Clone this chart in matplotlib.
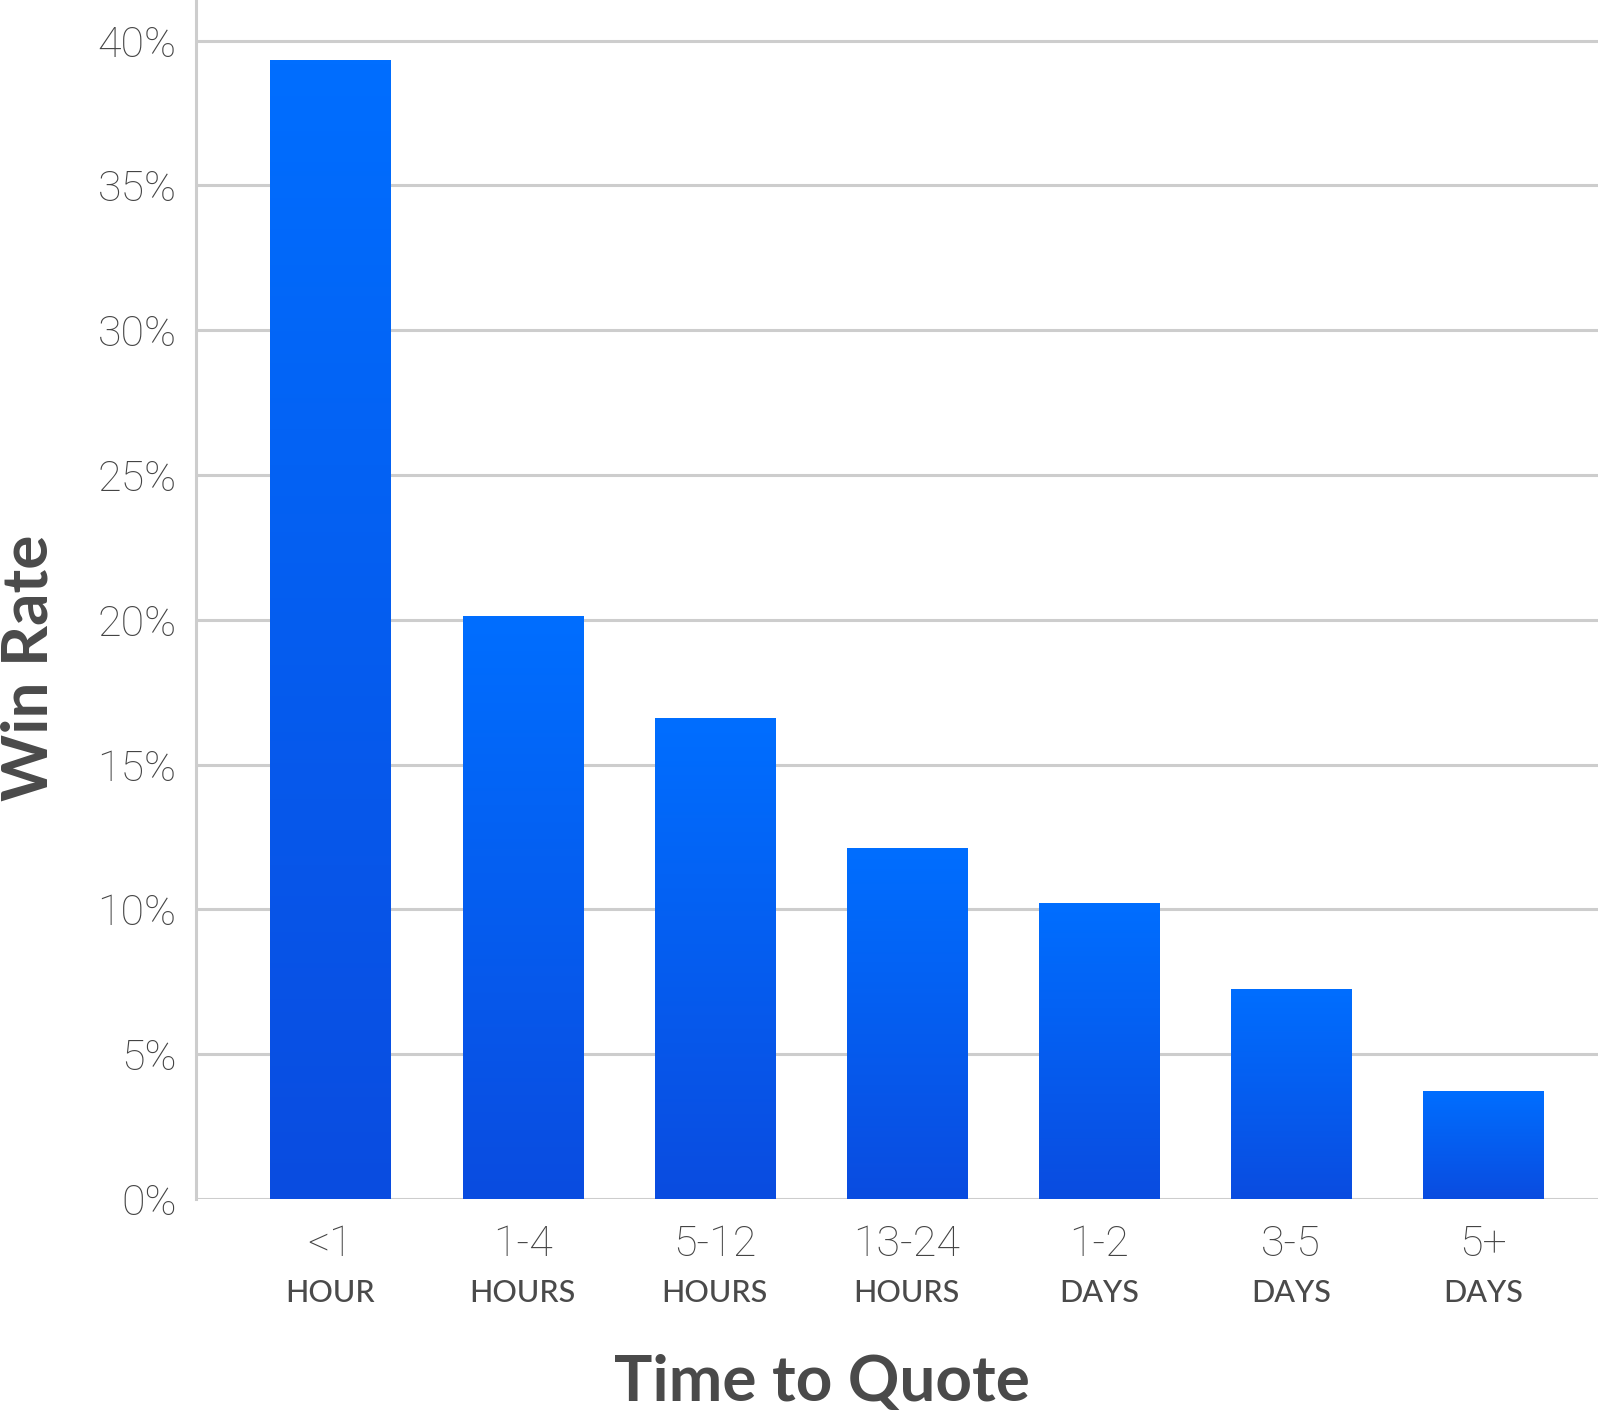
import numpy as np
import matplotlib.pyplot as plt
from matplotlib.colors import LinearSegmentedColormap
from matplotlib.transforms import blended_transform_factory

# data
top_labels = ["<1", "1-4", "5-12", "13-24", "1-2", "3-5", "5+"]
unit_labels = ["HOUR", "HOURS", "HOURS", "HOURS", "DAYS", "DAYS", "DAYS"]
win_rate = [39.3, 20.1, 16.6, 12.1, 10.2, 7.25, 3.7]
y_ticks = [0, 5, 10, 15, 20, 25, 30, 35, 40]

plt.rcParams['font.family'] = ['Lato', 'DejaVu Sans']
grey = "#4a4a4a"
grid_col = "#cdcdcd"
num_font = dict(family=["Roboto", "DejaVu Sans"], fontweight="light", fontsize=31, color="#444444")

fig = plt.figure(figsize=(16, 14.19), dpi=100)
ax = fig.add_axes([0.1225, 0.155, 0.8765, 0.845])

x = np.arange(len(win_rate))
bars = ax.bar(x, win_rate, width=0.625, color="none", edgecolor="none", zorder=3)

# vertical gradient per bar: dark at bottom, bright at top
cmap = LinearSegmentedColormap.from_list("blu", ["#0a4ce0", "#006eff"])
grad = np.linspace(0, 1, 256).reshape(-1, 1)
for b in bars:
	bx, by = b.get_xy()
	w, h = b.get_width(), b.get_height()
	ax.imshow(grad, extent=[bx, bx + w, by, by + h], origin="lower",
		aspect="auto", cmap=cmap, zorder=3)

ax.set_xlim(-0.70, 6.6)
ax.set_ylim(0, 41.4)

ax.set_yticks(y_ticks)
ax.set_yticklabels([f"{t}%" for t in y_ticks], **num_font)
ax.tick_params(axis="y", length=0, pad=14)
ax.set_xticks([])
ax.yaxis.grid(True, color=grid_col, linewidth=2.2, zorder=0)
ax.set_axisbelow(True)

for s in ["top", "right", "bottom"]:
	ax.spines[s].set_visible(False)
ax.spines["left"].set_color(grid_col)
ax.spines["left"].set_linewidth(2.2)

trans = blended_transform_factory(ax.transData, ax.transAxes)
for i in range(len(x)):
	ax.annotate(top_labels[i], (x[i], 0), xycoords=trans, xytext=(0, -33),
		textcoords="offset points", ha="center", va="center", **num_font)
	ax.annotate(unit_labels[i], (x[i], 0), xycoords=trans, xytext=(0, -68),
		textcoords="offset points", ha="center", va="center",
		fontsize=22, color=grey, fontweight="medium")

fig.text(822 / 1600, 1 - 1383 / 1419, "Time to Quote", ha="center", va="center",
	fontsize=46, fontweight="bold", color=grey)
fig.text(29 / 1600, 1 - 668 / 1419, "Win Rate", ha="center", va="center",
	rotation=90, fontsize=46, fontweight="bold", color=grey)

fig.savefig("out.png", dpi=100, facecolor="white")
